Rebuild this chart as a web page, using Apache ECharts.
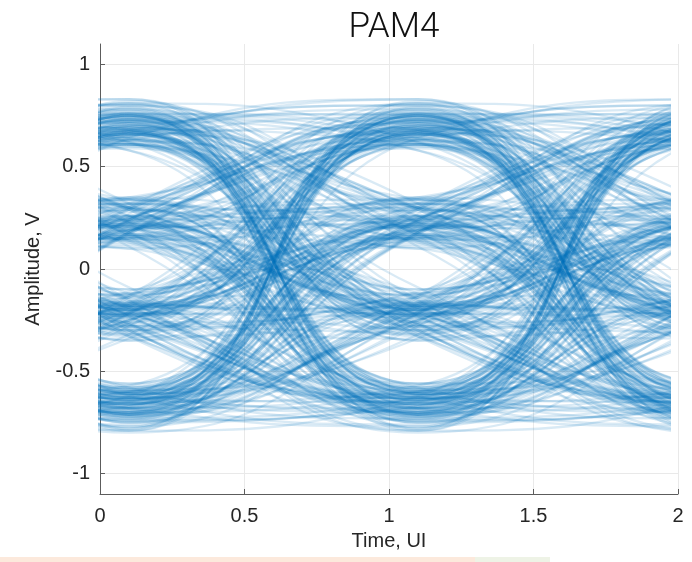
<!DOCTYPE html>
<html>
<head>
<meta charset="utf-8">
<script src="https://cdn.jsdelivr.net/npm/echarts@6/dist/echarts.min.js"></script>
<style>
  html, body { margin: 0; padding: 0; background: #ffffff; }
  #chart { width: 692px; height: 562px; }
</style>
</head>
<body>
<div id="chart"></div>
<script>
// PAM4 symbol stream (level index 0..3, lowest to highest)
const symbols = [
  3,1,0,2,2,3,1,0,1,2, 0,3,3,2,1,3,0,2,1,0, 2,0,1,3,3,2,0,2,3,1,
  1,2,0,3,0,1,2,3,2,2, 0,1,3,0,2,3,1,1,0,2, 3,3,2,1,0,0,1,2,3,3,
  0,2,1,2,3,1,0,3,2,0, 1,1,3,0,2,2,3,0,1,3, 2,3,0,2,1,1,0,3,2,1,
  0,1,2,3,3,0,2,1,1,2, 3,0,2,1,1,3,0,2,0,3, 1,3,2,0,0,1,2,2,3,1,
  2,1,0,3,3,2,1,0,0,2, 0,2,3,1,1,3,2,0,1,3, 3,1,2,0,2,0,3,3,1,2,
  1,0,3,2,2,1,0,1,3,0, 2,2,1,3,0,0,3,1,2,1, 0,3,1,2,2,3,1,0,2,0,
  3,2,0,1,1,2,0,3,3,2, 1,0,2,3,0,1,3,2,1,0, 0,3,3,1,2,2,0,1,1,3,
  2,1,3,0,3,0,2,2,0,1, 1,3,0,2,2,1,3,0,3,1, 3,0,1,2,1,2,0,2,3,0,
  0,2,2,3,1,0,3,1,1,2, 3,2,1,0,2,3,1,1,0,3, 2,2,0,1,3,1,2,0,0,2,
  3,3,1,2,0,3,1,0,2,1, 1,3,2,3,1,0,0,2,3,1, 0,0,2,3,2,1,0,3,1,2,
  2,0,3,1,3,0,1,2,0,0, 3,2,1,3,2,2,0,1,3,3, 0,1,2,0,1,3,2,2,1,0,
  2,3,1,2,0,0,3,1,2,3, 1,0,0,3,3,1,2,0,0,1, 3,2,3,1,0,2,1,3,3,2,
  2,1,0,1,3,0,0,2,1,3, 0,3,2,2,1,0,3,1,2,0, 1,1,3,0,2,3,1,0,0,3,
  2,0,1,3,1,2,2,3,3,1, 1,2,0,2,0,3,1,0,1,2, 3,0,2,1,3,1,0,2,2,3,
  0,3,3,1,0,1,2,3,1,1, 3,2,0,2,3,0,1,1,3,0, 2,2,1,3,0,2,1,3,0,1,
  0,1,3
];

// Nominal voltage of each PAM4 level, V
const levels = [-0.68, -0.22, 0.23, 0.70];

// Amplitude deviation of each received sample from its nominal level, in 0.01 V
const deviation = [
  4,-7,2,9,-3,0,-11,5,1,-6,  8,-2,-9,3,6,-4,12,-1,-5,2,  -8,7,0,-3,10,-12,4,1,-6,5,
  3,-1,-10,6,-4,9,2,-7,11,-2,  0,5,-8,-3,7,1,-13,4,8,-5,  -2,10,3,-6,0,-9,6,2,-4,13,
  1,-7,5,8,-11,-1,3,-4,9,-3,  6,0,-5,11,-2,-8,4,7,-10,2,  -4,3,12,-6,1,-2,-9,5,0,8,
  7,-3,-1,4,-12,6,2,-8,10,-5,  -6,9,1,-4,3,-10,7,0,-2,5,  2,-8,6,10,-5,1,-3,12,-7,-1,
  9,4,-11,0,6,-6,3,-2,8,-9,  -3,1,7,-5,11,2,-7,-4,0,6,  5,-10,-2,8,-1,4,-6,13,3,-8,
  0,6,-4,-9,2,7,-12,1,-3,10,  -7,3,9,-1,-5,5,0,-8,11,-2,  4,-3,-6,12,1,-9,6,2,-4,-11,
  8,0,-2,5,-7,3,10,-5,-1,7,  -9,2,4,-3,9,-12,-1,6,3,-6,  1,11,-8,0,-4,7,-2,5,-10,3,
  -5,-1,6,9,-3,2,-7,-13,4,8,  10,-6,0,3,-9,-2,5,1,7,-4,  -2,8,-5,-10,4,12,-3,0,6,-7,
  3,-4,11,-1,-8,5,9,-6,2,0,  -3,7,-5,6,-2,-9,4,1,-5,10,  -3,7,-1,-4,8,2,-11,5,0,-6,
  3,-8,12,1,-3,9,-7,-2,6,4,  -12,0,5,-10,2,7,-1,-5,11,-4,  3,8,-6,4,-9,0,6,-3,-13,2,
  9,-1,-7,10,1,-4,5,-8,3,-2,  12,-6,0,-1,7,-10,2,4,-5,8,  -3,0,11,5,-6,3,-2,9,-11,1,
  6,-4,-8,-7,0,11,-4,2,7,-9,  -1,5,3,2,-12,4,8,-6,0,3,  -5,10,-2,-5,3,-1,9,-7,4,-13,
  6,1,-3,8,-4,6,-8,0,2,5,  -10,-2,7,-3,10,-6,1,12,-2,-7,  4,0,-9,0,-5,2,7,-11,6,3,
  -1,-4,9,11,-1,-8,3,5,-6,0,  8,-12,4,-6,4,1,-10,7,-3,9,  -2,2,-5,3,-7,13,0,-4,1,-9,
  5,6,-2,-8,5,-3,6,2,-11,4,  0,-5,10,1,-2,8,-6,-9,3,7,  -4,11,-1,-4,9,0,-3,5,-7,2,
  12,-8,6
];

// Sampling instants (UI) around one displayed 2-UI window; the outer
// neighbours shape the curve through the window edges
const sampleTimes = [-1.9, -0.9, 0.1, 1.1, 2.1, 3.1];

// Axis ticks
const xTicks = [0, 0.5, 1, 1.5, 2];
const yTicks = [-1, -0.5, 0, 0.5, 1];

const title = 'PAM4';
const xName = 'Time, UI';
const yName = 'Amplitude, V';

// Received sample amplitudes
const samples = symbols.map((s, i) => levels[s] + deviation[i] / 100);

// Fold the stream into overlapping eye traces, one per UI step
const traceSeries = [];
for (let i = 0; i + sampleTimes.length <= samples.length; i++) {
  traceSeries.push({
    type: 'line',
    xAxisIndex: 1,
    yAxisIndex: 1,
    data: sampleTimes.map((t, k) => [t, samples[i + k]]),
    smooth: 0.5,
    symbol: 'none',
    showSymbol: false,
    silent: true,
    clip: true,
    lineStyle: { color: 'rgba(0,114,189,0.15)', width: 2.3 },
    z: 2
  });
}

const axisColor = '#5c5c5c';
const textColor = '#262626';
const labelFont = 'Liberation Sans, Arial, Helvetica, sans-serif';

const chart = echarts.init(document.getElementById('chart'), null, { renderer: 'canvas' });
chart.setOption({
  animation: false,
  backgroundColor: '#ffffff',
  title: {
    text: title,
    left: 389,
    textAlign: 'center',
    top: 6,
    textStyle: { fontFamily: 'Roboto', fontWeight: 300, fontSize: 35, color: '#111111' }
  },
  grid: [
    { left: 100, right: 14, top: 44, bottom: 68 },
    { left: 100, right: 22.7, top: 44, bottom: 68 }
  ],
  xAxis: [
    {
      gridIndex: 0, type: 'value', min: xTicks[0], max: xTicks[xTicks.length - 1], interval: 0.5,
      name: xName, nameLocation: 'middle', nameGap: 37,
      nameTextStyle: { fontFamily: labelFont, fontSize: 20, color: textColor },
      axisLine: { show: true, onZero: false, lineStyle: { color: axisColor, width: 1 } },
      axisTick: { show: true, inside: true, length: 5, lineStyle: { color: axisColor } },
      axisLabel: { fontFamily: labelFont, fontSize: 20, color: textColor, margin: 12,
                   showMinLabel: true, showMaxLabel: true },
      splitLine: { show: true, lineStyle: { color: '#e9e9e9', width: 1 } }
    },
    { gridIndex: 1, type: 'value', min: 0, max: 1.97, show: false }
  ],
  yAxis: [
    {
      gridIndex: 0, type: 'value', min: -1.1, max: 1.1,
      name: yName, nameLocation: 'middle', nameGap: 57,
      nameTextStyle: { fontFamily: labelFont, fontSize: 20, color: textColor },
      axisLine: { show: true, onZero: false, lineStyle: { color: axisColor, width: 1 } },
      axisTick: { show: true, inside: true, length: 5, customValues: yTicks, lineStyle: { color: axisColor } },
      axisLabel: { fontFamily: labelFont, fontSize: 20, color: textColor, margin: 10, customValues: yTicks },
      splitLine: { show: true, lineStyle: { color: '#e9e9e9', width: 1 } }
    },
    { gridIndex: 1, type: 'value', min: -1.1, max: 1.1, show: false }
  ],
  graphic: [
    { type: 'rect', left: 0, top: 557, shape: { width: 475, height: 5 }, style: { fill: '#fce9dc' }, silent: true },
    { type: 'rect', left: 475, top: 557, shape: { width: 75, height: 5 }, style: { fill: '#eef3e6' }, silent: true }
  ],
  series: traceSeries
});
</script>
</body>
</html>
